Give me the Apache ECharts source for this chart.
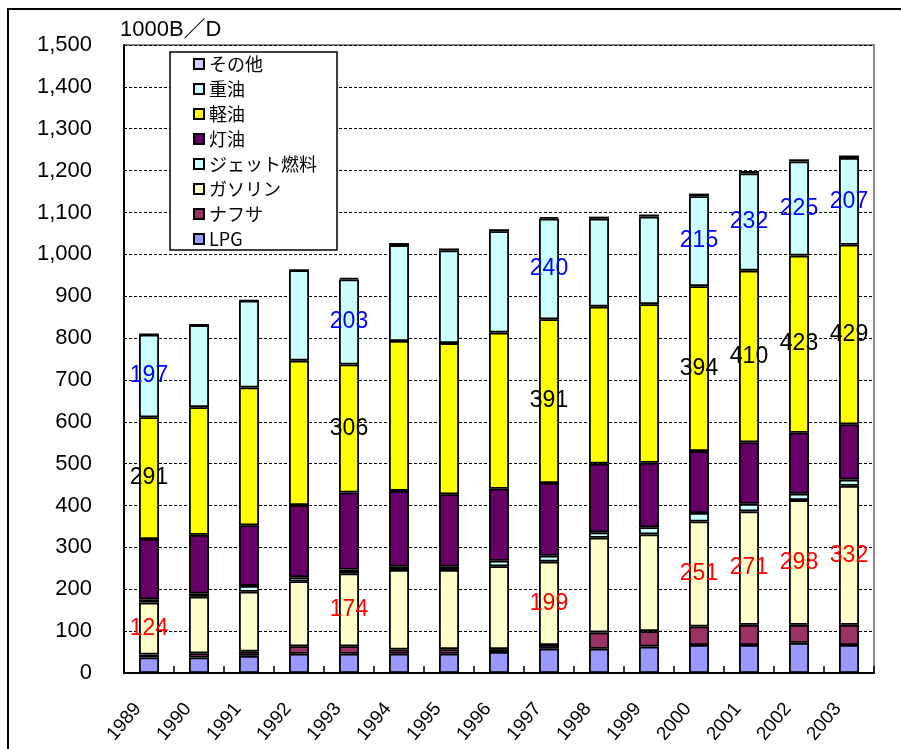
<!DOCTYPE html>
<html>
<head>
<meta charset="utf-8">
<script src="https://cdn.jsdelivr.net/npm/echarts@6/dist/echarts.min.js"></script>
<style>
  html, body { margin: 0; padding: 0; background: #fff; }
  #chart { width: 901px; height: 749px; }
</style>
</head>
<body>
<div id="chart"></div>
<script>
// 石油製品 需要量の推移（1000B/D）
const years = ['1989','1990','1991','1992','1993','1994','1995','1996','1997','1998','1999','2000','2001','2002','2003'];

const lpg      = [37, 37, 41, 46, 46, 46, 46, 50, 58, 58, 63, 67, 67, 72, 67];
const naphtha  = [7, 10, 10, 18, 18, 10, 11, 7, 9, 39, 37, 44, 48, 43, 48];
const gasoline = [124, 135, 143, 155, 174, 190, 189, 198, 199, 226, 231, 251, 271, 298, 332];
const jetFuel  = [8, 8, 14, 10, 9, 8, 8, 13, 14, 13, 17, 20, 18, 15, 15];
const kerosene = [144, 140, 145, 172, 184, 181, 173, 172, 174, 164, 154, 148, 147, 146, 132];
const gasOil   = [291, 305, 329, 345, 306, 358, 361, 373, 391, 375, 379, 394, 410, 423, 429];
const fuelOil  = [197, 196, 207, 216, 203, 229, 221, 242, 240, 210, 209, 215, 232, 225, 207];
const others   = [1, 1, 1, 1, 4, 5, 5, 5, 4, 5, 5, 6, 6, 5, 6];

// years whose values are printed on the bars
const labeledYears = ['1989','1993','1997','2000','2001','2002','2003'];

const seriesDefs = [
  { name: 'LPG',        data: lpg,      color: '#9999FF' },
  { name: 'ナフサ',     data: naphtha,  color: '#993366' },
  { name: 'ガソリン',   data: gasoline, color: '#FFFFCC', labelColor: '#FF0000' },
  { name: 'ジェット燃料', data: jetFuel, color: '#CCFFFF' },
  { name: '灯油',       data: kerosene, color: '#660066' },
  { name: '軽油',       data: gasOil,   color: '#FFFF00', labelColor: '#000000' },
  { name: '重油',       data: fuelOil,  color: '#CCFFFF', labelColor: '#0000FF' },
  { name: 'その他',     data: others,   color: '#CCCCFF' }
];

const series = seriesDefs.map(def => ({
  name: def.name,
  type: 'bar',
  stack: 'total',
  barWidth: '40%',
  itemStyle: { color: def.color, borderColor: '#000', borderWidth: 1.8 },
  emphasis: { disabled: true },
  data: def.data.map((v, i) => {
    if (def.labelColor && labeledYears.includes(years[i])) {
      return {
        value: v,
        label: {
          show: true,
          position: 'inside',
          color: def.labelColor,
          fontSize: 23,
          fontFamily: 'Liberation Sans, Arial, sans-serif'
        }
      };
    }
    return v;
  })
}));

const chart = echarts.init(document.getElementById('chart'), null, { renderer: 'canvas' });
chart.setOption({
  animation: false,
  backgroundColor: '#fff',
  textStyle: { fontFamily: 'Liberation Sans, Arial, "Noto Sans CJK JP", sans-serif' },
  graphic: [{
    type: 'rect',
    shape: { x: 8, y: 9, width: 1000, height: 1000 },
    style: { fill: 'none', stroke: '#000', lineWidth: 2 },
    silent: true
  }],
  grid: {
    left: 124, right: 27, top: 45, bottom: 76,
    show: true, borderColor: '#888', borderWidth: 2, backgroundColor: 'transparent'
  },
  legend: {
    data: ['その他','重油','軽油','灯油','ジェット燃料','ガソリン','ナフサ','LPG'],
    orient: 'vertical',
    left: 170, top: 52,
    padding: [2, 20, 1, 23],
    itemWidth: 10, itemHeight: 10, itemGap: 5,
    icon: 'rect',
    backgroundColor: '#fff',
    borderColor: '#000', borderWidth: 1.5,
    textStyle: {
      fontSize: 18, lineHeight: 20, color: '#000',
      fontFamily: '"Noto Sans CJK JP", "Liberation Sans", sans-serif'
    },
    selectedMode: false
  },
  xAxis: {
    type: 'category',
    data: years,
    axisLine: { lineStyle: { color: '#000', width: 2 } },
    axisTick: { show: true, inside: true, length: 7, lineStyle: { color: '#000', width: 1.5 } },
    axisLabel: {
      rotate: 50, fontSize: 19, color: '#000', margin: 34,
      verticalAlign: 'bottom',
      padding: [0, 6, 0, 0],
      fontFamily: '"Liberation Sans Narrow", "Liberation Sans", Arial, sans-serif'
    },
    splitLine: { show: false }
  },
  yAxis: {
    type: 'value',
    min: 0, max: 1500, interval: 100,
    name: '1000B／D',
    nameLocation: 'end',
    nameGap: 4,
    nameTextStyle: {
      fontSize: 22, color: '#000', align: 'left', verticalAlign: 'bottom',
      fontFamily: 'Liberation Sans, Arial, "Noto Sans CJK JP", sans-serif',
      padding: [0, 0, 0, -4]
    },
    axisLine: { show: true, lineStyle: { color: '#000', width: 2 } },
    axisTick: { show: false },
    axisLabel: {
      fontSize: 22, color: '#000', margin: 32,
      fontFamily: 'Liberation Sans, Arial, sans-serif'
    },
    splitLine: { show: true, lineStyle: { color: '#000', type: [3, 2], width: 1 } }
  },
  series: series
});
</script>
</body>
</html>
